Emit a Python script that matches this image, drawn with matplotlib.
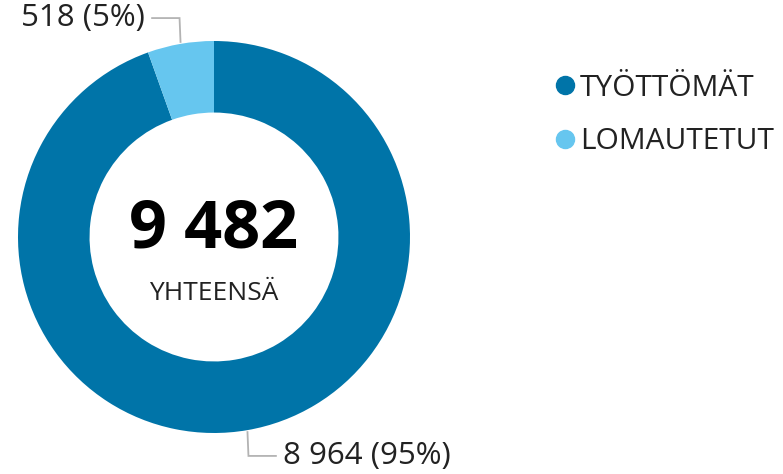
import matplotlib
matplotlib.use("Agg")
import matplotlib.pyplot as plt
import numpy as np
from matplotlib.lines import Line2D

categories = ["TYÖTTÖMÄT", "LOMAUTETUT"]
values = [8964, 518]
colors = ["#0074A8", "#66C6EF"]
center_label = "YHTEENSÄ"

plt.rcParams['font.family'] = ['Open Sans', 'DejaVu Sans']

W, H = 783, 474
fig = plt.figure(figsize=(W / 100, H / 100), dpi=100)
cx, cy, R = 214, 237, 196
ax = fig.add_axes([(cx - R) / W, (H - cy - R) / H, 2 * R / W, 2 * R / H])
ax.axis('off')

wedges, _ = ax.pie(values, colors=colors, startangle=90, counterclock=False,
                   radius=1.0, wedgeprops=dict(width=0.365, linewidth=0))
ax.set_xlim(-1, 1)
ax.set_ylim(-1, 1)
ax.set_aspect('equal')

total = sum(values)
ax.text(0, 0.035, f"{total:,}".replace(",", " "), ha='center', va='center',
        fontsize=48, fontweight='bold', color='black')
ax.text(0, -0.29, center_label, ha='center', va='center', fontsize=19, color='#222222')

gray = '#B3B3B3'
for i, w in enumerate(wedges):
    mid = np.deg2rad((w.theta1 + w.theta2) / 2)
    x0, y0 = np.cos(mid), np.sin(mid)
    side = 1 if x0 > 0 else -1
    vside = 1 if y0 > 0 else -1
    y1 = vside * 1.117
    x1 = x0 + side * 0.005
    x2 = x1 + side * 0.14
    ax.plot([x0, x1, x2], [y0 + vside * 0.01, y1, y1], color=gray, lw=1.3,
            clip_on=False, solid_joinstyle='miter')
    pct = round(values[i] / total * 100)
    label = f"{values[i]:,} ({pct}%)".replace(",", " ")
    ax.text(x2 + side * 0.035, y1, label, ha='left' if side > 0 else 'right',
            va='center', fontsize=22.5, color='#222222', clip_on=False)

handles = [Line2D([0], [0], marker='o', linestyle='none', markersize=13,
                  markerfacecolor=c, markeredgecolor=c) for c in colors]
leg = fig.legend(handles, categories, loc='upper left',
                 bbox_to_anchor=(529 / W, 1 - 47 / H), frameon=False,
                 fontsize=21.5, handlelength=0.6, handletextpad=0.2,
                 labelspacing=0.82, labelcolor='#222222')

fig.savefig("out.png", dpi=100)
